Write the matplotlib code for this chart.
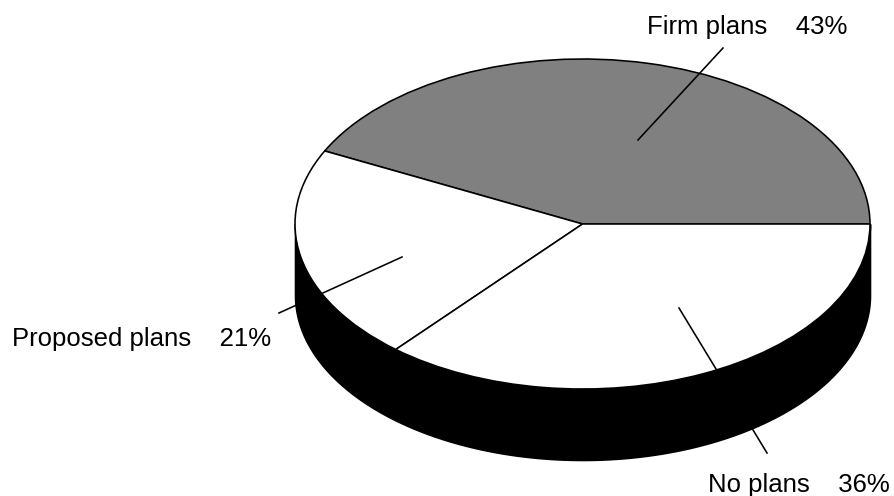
import numpy as np
import matplotlib
matplotlib.use("Agg")
import matplotlib.pyplot as plt
from matplotlib.patches import Wedge
from matplotlib.transforms import Affine2D

# share of respondents, going round from the right hand side
# (slice angles, the labels show them rounded)
labels = ['Firm plans', 'Proposed plans', 'No plans']
values = [42.7, 21.05, 36.25]

colors = ['#808080', 'white', 'white']
text_pos = [(647, 34), (12, 346), (708, 492)]
leaders = [((723, 48), (638, 140)), ((279, 313), (402, 257)), ((767, 453), (679, 308))]

# pie ellipse in pixels
cx, cy = 582.5, 224
rx, ry = 287.5, 165
depth = 71
lw = 1.15

plt.rcParams['font.family'] = ['Liberation Sans', 'DejaVu Sans']

fig = plt.figure(figsize=(8.94, 4.96), dpi=100)
ax = fig.add_axes([0, 0, 1, 1])
ax.set_xlim(0, 894)
ax.set_ylim(496, 0)
ax.axis('off')

# black side of the disc
t = np.linspace(np.pi, 2 * np.pi, 300)
x = cx + rx * np.cos(t)
y = cy - ry * np.sin(t)
ax.fill_between(x, y, y + depth, color='black', lw=lw, zorder=1)

# top face
tr = Affine2D().scale(rx, -ry).translate(cx, cy) + ax.transData
edges = np.cumsum([0] + values) / sum(values) * 360
for i in range(len(values)):
    w = Wedge((0, 0), 1, edges[i], edges[i + 1], facecolor=colors[i],
              edgecolor='black', linewidth=lw, transform=tr, zorder=2)
    ax.add_patch(w)

for (a, b) in leaders:
    ax.plot([a[0], b[0]], [a[1], b[1]], color='black', lw=lw, zorder=3)

for i in range(len(labels)):
    ax.text(text_pos[i][0], text_pos[i][1], labels[i] + '    ' + f'{values[i]:.0f}%',
            fontsize=18.55, color='black', ha='left', va='baseline')

fig.savefig('out.png', dpi=100)
